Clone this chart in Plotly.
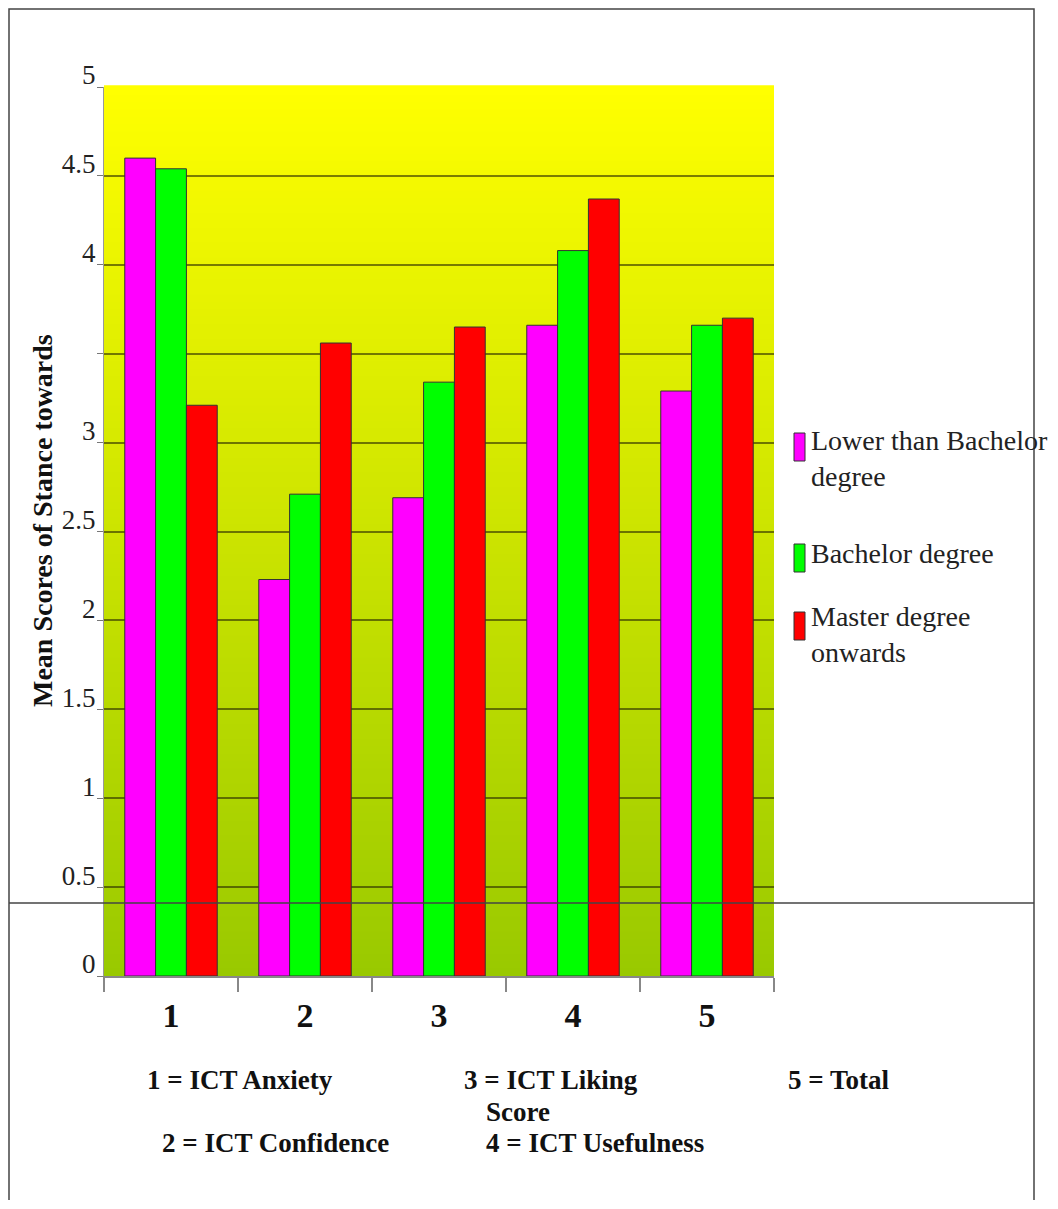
import plotly.graph_objects as go

categories = ["1", "2", "3", "4", "5"]
lower_than_bachelor = [4.60, 2.23, 2.69, 3.66, 3.29]
bachelor = [4.54, 2.71, 3.34, 4.08, 3.66]
master_onwards = [3.21, 3.56, 3.65, 4.37, 3.70]
series_names = ["Lower than Bachelor<br>degree", "Bachelor degree", "Master degree<br>onwards"]
series_colors = ["#FF00FF", "#00FF00", "#FF0000"]
y_tick_vals = [0, 0.5, 1, 1.5, 2, 2.5, 3, 3.5, 4, 4.5, 5]
y_tick_text = ["0", "0.5", "1", "1.5", "2", "2.5", "3", "", "4", "4.5", "5"]
y_title = "Mean Scores of Stance towards"

W, H = 1058, 1200
L, R, T, B = 104, 774, 87, 976  # plot area pixel box


def px(x):
    return (x - L) / (R - L)


def py(y):
    return (B - y) / (B - T)


SERIF = "Liberation Serif, Times New Roman, serif"

fig = go.Figure()
for name, vals, col in zip(series_names, [lower_than_bachelor, bachelor, master_onwards], series_colors):
    fig.add_trace(go.Bar(
        x=categories, y=vals, name=name.replace("<br>", " "), showlegend=False,
        marker=dict(color=col, line=dict(color="#333333", width=1)),
    ))

shapes = []
# vertical gradient background (yellow top -> olive green bottom)
n = 120
top_c = (255, 255, 0)
bot_c = (153, 201, 0)
for i in range(n):
    f = (i + 0.5) / n
    c = tuple(round(bot_c[k] + (top_c[k] - bot_c[k]) * f) for k in range(3))
    shapes.append(dict(type="rect", xref="paper", yref="paper",
                       x0=0, x1=1, y0=i / n, y1=(i + 1) / n + 0.002,
                       fillcolor="rgb(%d,%d,%d)" % c, line=dict(width=0), layer="below"))
# outer frame
shapes.append(dict(type="rect", xref="paper", yref="paper",
                   x0=px(9), x1=px(1034), y0=py(1260), y1=py(9),
                   line=dict(color="#444444", width=1.5), layer="above"))
# horizontal line across the frame
shapes.append(dict(type="line", xref="paper", yref="paper",
                   x0=px(9), x1=px(1034), y0=py(903), y1=py(903),
                   line=dict(color="#444444", width=1.3), layer="above"))

annotations = [
    dict(text="<b>" + y_title + "</b>", textangle=-90, x=px(42), y=py(521),
         xref="paper", yref="paper", showarrow=False, xanchor="center", yanchor="middle",
         font=dict(family=SERIF, size=28, color="#111")),
]

# legend (drawn manually to match narrow tall swatches)
legend_items = [
    (series_names[0], series_colors[0], 433, 461, 458),
    (series_names[1], series_colors[1], 544, 572, 553),
    (series_names[2], series_colors[2], 612, 640, 634),
]
for txt, col, s0, s1, tc in legend_items:
    shapes.append(dict(type="rect", xref="paper", yref="paper",
                       x0=px(794), x1=px(805), y0=py(s1), y1=py(s0),
                       fillcolor=col, line=dict(color="#333333", width=1), layer="above"))
    annotations.append(dict(text=txt, x=px(809), y=py(tc), xref="paper", yref="paper",
                            showarrow=False, xanchor="left", yanchor="middle", align="left",
                            font=dict(family=SERIF, size=28, color="#222")))

notes = [
    ("1 = ICT Anxiety", 240, 1080),
    ("3 = ICT Liking", 551, 1080),
    ("Score", 518, 1112),
    ("5 = Total", 838, 1080),
    ("2 = ICT Confidence", 275, 1143),
    ("4 = ICT Usefulness", 595, 1143),
]
for txt, x, y in notes:
    annotations.append(dict(text="<b>" + txt + "</b>", x=px(x), y=py(y), xref="paper", yref="paper",
                            showarrow=False, xanchor="center", yanchor="middle",
                            font=dict(family=SERIF, size=27, color="#111")))

fig.update_layout(
    width=W, height=H,
    margin=dict(l=L, r=W - R, t=T, b=H - B, pad=0),
    paper_bgcolor="white", plot_bgcolor="rgba(0,0,0,0)",
    barmode="group", bargap=0.31, bargroupgap=0,
    shapes=shapes, annotations=annotations,
    showlegend=False,
    font=dict(family=SERIF, color="#222"),
)
fig.update_xaxes(
    type="category", tickson="boundaries", ticks="outside", ticklen=14,
    tickcolor="#888", tickwidth=1.5, showline=True, linecolor="#888", linewidth=1.5,
    showgrid=False, tickfont=dict(family=SERIF, size=34, color="#111"),
    tickprefix="<b>", ticksuffix="</b>", ticklabelstandoff=8,
)
fig.update_yaxes(
    range=[0, 5], tickvals=y_tick_vals, ticktext=y_tick_text,
    ticks="outside", ticklen=6, tickcolor="#777", showline=True, linecolor="#999",
    showgrid=True, gridcolor="rgba(40,40,0,0.6)", gridwidth=1.5, zeroline=False,
    tickfont=dict(family=SERIF, size=27, color="#222"), ticklabelshift=-12,
    ticklabelstandoff=-4,
)

fig.write_html("out.html", config={"responsive": False})
